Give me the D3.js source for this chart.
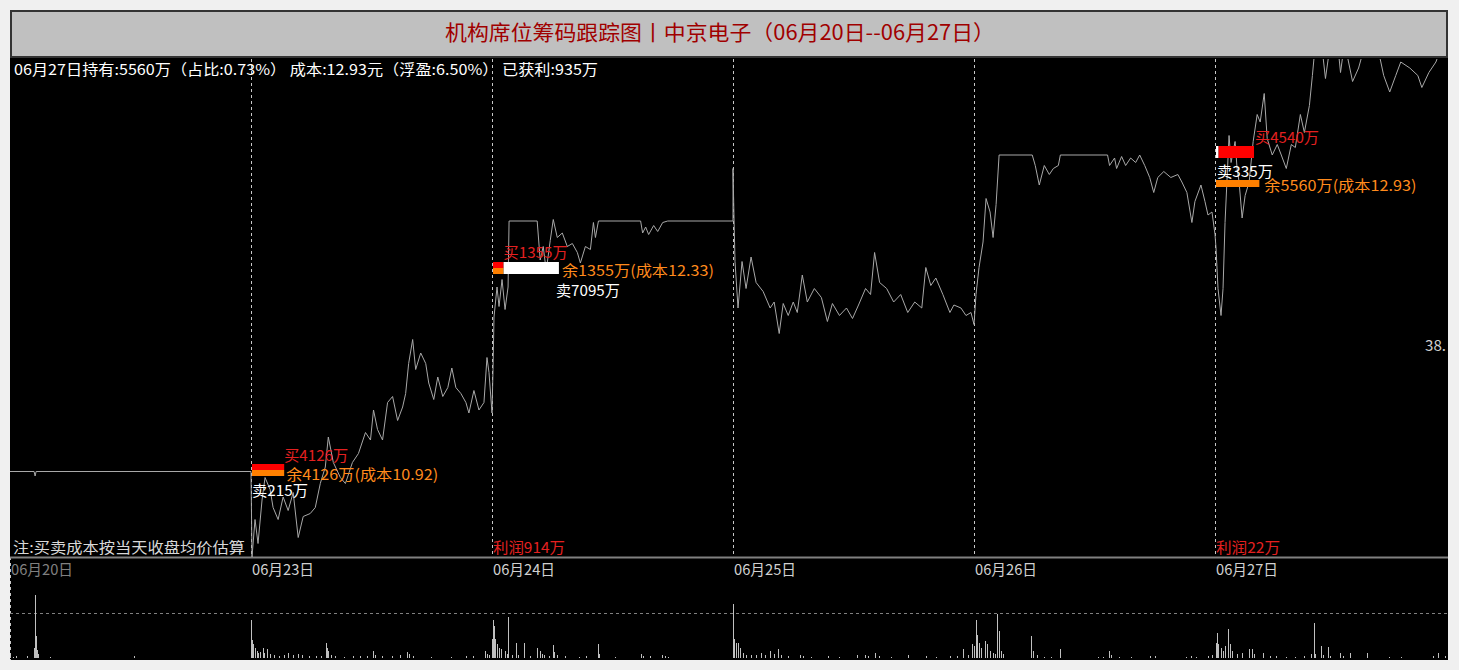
<!DOCTYPE html>
<html><head><meta charset="utf-8">
<script src="https://cdn.jsdelivr.net/npm/d3@7"></script>
<style>
body{margin:0;background:#f0f0f0;}
svg{display:block;}
text{font-family:"Noto Sans CJK SC","Noto Sans",sans-serif;}
</style>
</head><body>
<svg id="chart" width="1459" height="670"></svg>
<script>
// ---------------- DATA ----------------
const titleText = "机构席位筹码跟踪图丨中京电子（06月20日--06月27日）";
const infoText = "06月27日持有:5560万（占比:0.73%） 成本:12.93元（浮盈:6.50%） 已获利:935万";
const noteText = "注:买卖成本按当天收盘均价估算";
const dayLabels = ["06月20日","06月23日","06月24日","06月25日","06月26日","06月27日"];
const rightLabel = "38.";

// intraday price points per day: [minute, price]
const price0620 = [[0,10.91],[24,10.91],[25,10.88],[26,10.91],[240,10.91]];
const price0623 = [[0,10.90],[1,10.34],[4,10.59],[7,10.43],[11,10.72],[14,10.87],[19,10.79],[22,10.67],[27,10.59],[32,10.74],[37,10.65],[42,10.77],[47,10.47],[52,10.61],[59,10.63],[64,10.67],[69,10.83],[74,10.94],[77,11.14],[82,10.97],[89,10.87],[94,10.83],[101,10.97],[107,11.03],[114,11.17],[119,11.12],[122,11.32],[126,11.19],[131,11.12],[136,11.37],[141,11.41],[146,11.25],[151,11.34],[154,11.43],[157,11.63],[161,11.79],[164,11.59],[169,11.70],[174,11.63],[177,11.50],[182,11.39],[186,11.54],[191,11.41],[196,11.47],[200,11.60],[204,11.47],[209,11.43],[214,11.37],[217,11.30],[222,11.45],[227,11.32],[232,11.37],[235,11.67],[237,11.57],[240,11.30]];
const price0624 = [[0,11.30],[1,11.59],[2,11.94],[5,12.14],[7,12.01],[10,12.19],[13,11.99],[16,12.14],[17,12.58],[45,12.58],[48,12.32],[51,12.41],[54,12.25],[58,12.45],[61,12.59],[65,12.47],[70,12.50],[75,12.41],[80,12.43],[85,12.37],[88,12.30],[93,12.41],[98,12.39],[101,12.57],[103,12.47],[106,12.58],[148,12.58],[150,12.50],[153,12.54],[156,12.49],[161,12.55],[165,12.51],[170,12.57],[175,12.58],[240,12.58]];
const price0625 = [[0,12.93],[1,12.60],[2,12.31],[5,12.00],[9,12.31],[13,12.13],[18,12.34],[23,12.17],[30,12.11],[37,12.00],[41,12.04],[46,11.83],[50,12.03],[55,11.95],[60,12.04],[64,11.97],[69,12.22],[74,12.04],[81,12.13],[88,12.07],[94,11.91],[99,12.03],[106,11.95],[113,12.00],[119,11.93],[125,12.02],[132,12.13],[137,12.09],[141,12.37],[146,12.17],[153,12.13],[160,12.04],[167,12.09],[174,11.97],[181,12.04],[188,12.00],[192,12.27],[197,12.15],[202,12.20],[209,12.09],[216,11.97],[220,12.02],[227,12.00],[232,11.95],[237,11.97],[240,11.89]];
const price0626 = [[2,12.09],[5,12.27],[9,12.44],[12,12.73],[16,12.64],[19,12.47],[22,12.69],[25,13.02],[58,13.02],[61,12.95],[65,12.82],[70,12.95],[75,12.89],[79,12.93],[84,12.95],[86,13.02],[133,13.02],[135,12.95],[140,13.00],[142,12.93],[147,13.01],[151,12.95],[156,13.00],[161,12.97],[165,13.02],[170,12.95],[175,12.87],[179,12.77],[183,12.87],[189,12.91],[196,12.87],[203,12.89],[207,12.84],[212,12.77],[217,12.57],[220,12.71],[226,12.82],[230,12.71],[233,12.62],[237,12.64],[240,12.49]];
const price0627 = [[1,12.40],[3,12.13],[6,11.95],[8,12.13],[10,12.57],[14,13.15],[16,12.97],[20,13.11],[22,12.93],[24,12.84],[27,12.60],[30,12.75],[34,12.84],[38,13.11],[42,13.29],[45,13.24],[49,13.43],[52,13.13],[57,13.02],[62,13.09],[66,13.02],[71,12.93],[76,13.09],[80,13.07],[85,13.29],[89,13.17],[94,13.35],[97,13.55],[100,13.77],[106,13.77],[110,13.53],[115,13.77],[122,13.77],[125,13.57],[129,13.77],[137,13.51],[143,13.60],[150,13.77],[161,13.77],[168,13.55],[174,13.44],[180,13.55],[185,13.64],[194,13.60],[202,13.55],[206,13.47],[213,13.57],[220,13.64],[227,13.77],[240,13.77]];
const prices = [price0620, price0623, price0624, price0625, price0626, price0627];

// intraday volume per day: [minute, volume(万股)]
const vol0620 = [[0,2],[3,1],[6,2],[17,2],[24,10],[25,63],[26,22],[27,8],[28,4],[40,1],[123,2]];
const vol0623 = [[0,38],[1,18],[2,14],[4,10],[6,7],[7,5],[9,6],[12,10],[13,5],[16,9],[19,4],[23,3],[28,2],[33,3],[37,5],[42,3],[47,4],[51,3],[58,2],[65,2],[70,2],[75,15],[76,10],[77,7],[80,3],[84,2],[93,1],[102,2],[109,2],[116,2],[121,7],[123,3],[130,2],[140,2],[148,3],[155,6],[157,4],[161,2],[179,1],[199,1],[214,2],[221,2],[233,7],[235,4],[237,3]];
const vol0624 = [[0,19],[1,38],[2,32],[3,19],[5,14],[7,10],[9,9],[13,7],[15,4],[16,41],[20,3],[24,15],[26,3],[32,15],[38,2],[45,10],[48,7],[50,4],[52,3],[57,2],[61,13],[62,6],[65,3],[73,2],[87,1],[94,2],[106,14],[107,4],[122,1],[148,4],[150,2],[157,2],[169,3],[172,2],[175,1]];
const vol0625 = [[0,54],[1,19],[3,15],[5,15],[7,10],[10,5],[13,3],[18,3],[23,3],[28,5],[32,3],[37,7],[41,4],[45,9],[48,3],[55,2],[67,3],[70,2],[78,1],[95,2],[106,1],[123,3],[131,3],[134,2],[141,5],[145,2],[157,1],[174,3],[192,2],[202,1],[216,2],[223,2],[229,9],[234,3],[238,14]];
const vol0626 = [[0,12],[2,38],[3,23],[5,15],[7,10],[11,17],[13,14],[16,7],[19,5],[21,4],[23,44],[25,27],[27,7],[29,4],[57,22],[59,7],[63,3],[70,1],[77,1],[86,9],[123,1],[128,1],[134,7],[136,3],[144,1],[156,1],[175,2],[180,2],[211,1],[216,2],[221,1],[233,2],[237,3]];
const vol0627 = [[1,15],[2,25],[3,14],[6,10],[8,7],[10,12],[13,29],[15,14],[17,7],[22,4],[27,5],[34,9],[37,9],[39,4],[48,5],[55,2],[61,2],[71,1],[80,1],[89,2],[96,4],[99,35],[100,4],[106,12],[108,3],[113,11],[115,2],[124,5],[127,2],[134,5],[151,5],[173,1],[185,1],[217,2],[222,5],[229,2]];
const volumes = [vol0620, vol0623, vol0624, vol0625, vol0626, vol0627];

// institutional seat trades (万) per day index
const tradeDays = [1, 2, 5];
const tradeBuy  = [4126, 1355, 4540];
const tradeSell = [215, 7095, 335];
const tradeRest = [4126, 1355, 5560];
const tradeCost = [10.92, 12.33, 12.93];
const tradeLevel = [10.92, 12.27, 13.04]; // average deal price of that day
const profitDays = [2, 5];
const profitVals = [914, 22];

// ---------------- LAYOUT ----------------
const svg = d3.select("#chart");
const L = 10, R = 1448, mainTop = 59, mainBot = 557, volTop = 580, volBot = 658;
const perDay = 240;

const x = d3.scaleLinear().domain([0, perDay * 6]).range([L, L + 241 * 6]);
const yP = d3.scaleLinear().domain([10.34, 13.66]).range([mainBot, mainTop]);
const yV = d3.scaleLinear().domain([0, 78]).range([volBot, volTop]);
const wA = d3.scaleLinear().domain([0, 1000]).range([0, 7.8]);

const redT = "#e42020", orangeT = "#ff8a1c";

// width of a string in a half-width/full-width (SimSun-like) metric
function sw(t, em) { let w = 0; for (const c of t) w += c.charCodeAt(0) < 256 ? em / 2 : em; return w; }
function txt(sel, t, px, py, size, em, fill, anchor) {
  const e = sel.append("text").attr("x", px).attr("y", py).attr("font-size", size).attr("fill", fill)
    .attr("textLength", sw(t, em)).attr("lengthAdjust", "spacingAndGlyphs").text(t);
  if (anchor) e.attr("text-anchor", anchor);
  return e;
}

// frame
svg.append("rect").attr("x", L).attr("y", 57).attr("width", R - L).attr("height", 603).attr("fill", "#000");
svg.append("rect").attr("x", 11).attr("y", 11).attr("width", 1436).attr("height", 46)
  .attr("fill", "#c0c0c0").attr("stroke", "#333").attr("stroke-width", 2);
txt(svg, titleText, 720, 40, 21, 22, "#a00000", "middle");

const defs = svg.append("defs");
defs.append("clipPath").attr("id", "mainClip").append("rect")
  .attr("x", L).attr("y", mainTop).attr("width", R - L).attr("height", mainBot - mainTop);
defs.append("clipPath").attr("id", "volClip").append("rect")
  .attr("x", L).attr("y", volTop - 5).attr("width", R - L).attr("height", volBot - volTop + 5);

// day separators
const g = svg.append("g");
for (let d = 1; d < 6; d++) {
  g.append("line").attr("x1", Math.round(x(d * perDay)) + 0.5).attr("x2", Math.round(x(d * perDay)) + 0.5)
    .attr("y1", mainTop).attr("y2", mainBot)
    .attr("stroke", "#c8c8c8").attr("stroke-dasharray", "3,3");
}
g.append("line").attr("x1", L + 0.5).attr("x2", L + 0.5).attr("y1", mainBot).attr("y2", 660)
  .attr("stroke", "#c8c8c8").attr("stroke-dasharray", "3,3");

// main baseline
g.append("line").attr("x1", L).attr("x2", R).attr("y1", mainBot + 0.5).attr("y2", mainBot + 0.5)
  .attr("stroke", "#808080").attr("stroke-width", 2);

// volume dashed ref line
g.append("line").attr("x1", L).attr("x2", R).attr("y1", yV(45) + 0.5).attr("y2", yV(45) + 0.5)
  .attr("stroke", "#808080").attr("stroke-dasharray", "3,3");

// price line
const pts = [];
prices.forEach((arr, d) => arr.forEach(p => pts.push([d * perDay + p[0], p[1]])));
svg.append("path").attr("clip-path", "url(#mainClip)")
  .attr("d", d3.line().x(p => x(p[0])).y(p => yP(p[1]))(pts))
  .attr("fill", "none").attr("stroke", "#a8a8a8").attr("stroke-width", 1);

// volume bars
const vpts = [];
volumes.forEach((arr, d) => arr.forEach(v => vpts.push([d * perDay + v[0], v[1]])));
svg.append("g").attr("clip-path", "url(#volClip)").selectAll("rect").data(vpts).join("rect")
  .attr("x", v => Math.round(x(v[0])))
  .attr("y", v => yV(v[1]))
  .attr("width", 1)
  .attr("height", v => yV(0) - yV(v[1]))
  .attr("fill", "#c0c0c0");

// labels
txt(svg, infoText, 14, 75, 15, 16, "#fff");
txt(svg, noteText, 13, 553, 15, 16, "#d8d8d8");
dayLabels.forEach((t, d) => txt(svg, t, x(d * perDay) + 1, 575, 15, 15.5, d === 0 ? "#808080" : "#d0d0d0"));
txt(svg, rightLabel, 1425, 351, 15, 14, "#d0d0d0");

profitDays.forEach((d, i) => txt(svg, "利润" + profitVals[i] + "万", x(d * perDay) + 1, 553, 15, 16, redT));

// trade markers
const tg = svg.append("g");
tradeDays.forEach((d, i) => {
  const x0 = Math.round(x(d * perDay)) + 1;
  const yc = yP(tradeLevel[i]);
  const top = Math.round(yc - 6), h = 12, bot = top + h;
  const wb = wA(tradeBuy[i]), ws = wA(tradeSell[i]), wr = wA(tradeRest[i]);
  const buyT = "买" + tradeBuy[i] + "万", sellT = "卖" + tradeSell[i] + "万";
  const restT = "余" + tradeRest[i] + "万(成本" + tradeCost[i].toFixed(2) + ")";
  if (i === 0) {
    tg.append("rect").attr("x", x0).attr("y", top).attr("width", wb).attr("height", h / 2).attr("fill", "#ff0000");
    tg.append("rect").attr("x", x0).attr("y", top + h / 2).attr("width", wr).attr("height", h / 2).attr("fill", "#ff8000");
    txt(tg, buyT, x0 + wb, top - 3, 15, 16, redT);
    txt(tg, restT, x0 + wr + 2, bot + 4, 15, 16, orangeT);
    txt(tg, sellT, x0, bot + 20, 15, 16, "#fff");
  } else if (i === 1) {
    tg.append("rect").attr("x", x0).attr("y", top).attr("width", wb).attr("height", h / 2).attr("fill", "#ff0000");
    tg.append("rect").attr("x", x0).attr("y", top + h / 2).attr("width", wr).attr("height", h / 2).attr("fill", "#ff8000");
    tg.append("rect").attr("x", x0 + wb).attr("y", top).attr("width", ws).attr("height", h).attr("fill", "#ffffff");
    txt(tg, buyT, x0 + wb, top - 4, 15, 16, redT);
    txt(tg, restT, x0 + wb + ws + 3, bot + 2, 15, 16, orangeT);
    txt(tg, sellT, x0 + wb + ws - 3, bot + 22, 15, 16, "#fff");
  } else {
    tg.append("rect").attr("x", x0).attr("y", top).attr("width", ws).attr("height", h).attr("fill", "#ffffff");
    tg.append("rect").attr("x", x0 + ws).attr("y", top).attr("width", wb).attr("height", h).attr("fill", "#ff0000");
    txt(tg, buyT, x0 + ws + wb + 1, top - 3, 15, 16, redT);
    txt(tg, sellT, x0 + 1, bot + 19, 15, 16, "#fff");
    const rt = bot + 22;
    tg.append("rect").attr("x", x0).attr("y", rt).attr("width", wr).attr("height", 7).attr("fill", "#ff8000");
    txt(tg, restT, x0 + wr + 5, rt + 11, 15, 16, orangeT);
  }
});
</script>
</body></html>
